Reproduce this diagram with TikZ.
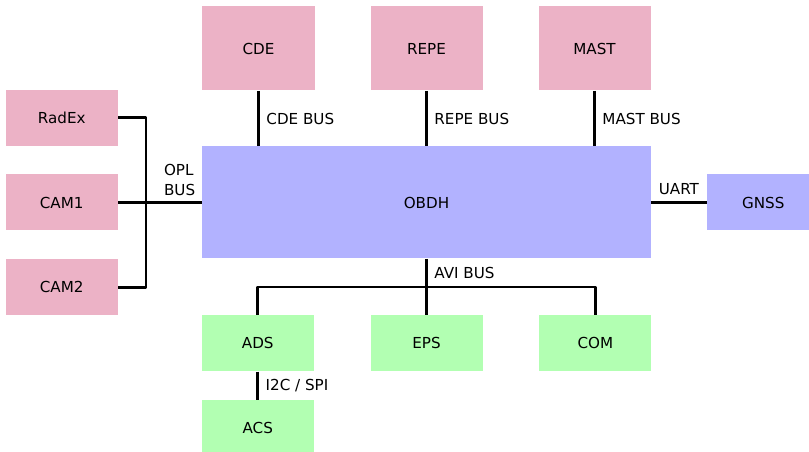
\documentclass[tikz,border=0pt]{standalone}
\usepackage{fontspec}
\setmainfont{DejaVu Sans}
\usetikzlibrary{positioning, calc}
\tikzset{
    block/.style={minimum width=2cm, minimum height=1cm, inner sep=0pt, font=\fontsize{7.7}{10}\selectfont},
    payload/.style={block, fill=purple!30},
    core/.style={block, fill=blue!30},
    subsys/.style={block, fill=green!30},
    line/.style={line width=1.4pt, line join=round},
    bus label/.style={font=\fontsize{7.7}{10}\selectfont, align=left}
}
\begin{document}
\begin{tikzpicture}
    \useasboundingbox (-7.616,-4.455) rectangle (6.83,3.616);
    % --- On-board computer ---
    \node (obdh) [core, minimum width=8cm, minimum height=2cm] at (0,0) {OBDH};
    \node (gnss) [core, right=1cm of obdh] {GNSS};

    % --- Payloads ---
    \node (cde) [payload, minimum height=1.5cm] at (-3,2.75) {CDE};
    \node (repe) [payload, minimum height=1.5cm] at (0,2.75) {REPE};
    \node (mast) [payload, minimum height=1.5cm] at (3,2.75) {MAST};
    \node (cam1) [payload, left=1.5cm of obdh] {CAM1};
    \node (radex) [payload, above=0.5cm of cam1] {RadEx};
    \node (cam2) [payload, below=0.5cm of cam1] {CAM2};

    % --- Platform ---
    \node (eps) [subsys, below=1cm of obdh] {EPS};
    \node (ads) [subsys, left=1cm of eps] {ADS};
    \node (com) [subsys, right=1cm of eps] {COM};
    \node (acs) [subsys, below=0.5cm of ads] {ACS};

    % --- OPL bus ---
    \coordinate (opl) at ($(cam1.east)+(0.5,0)$);
    \draw[line] (radex.east) -| (opl) |- (cam2.east);
    \draw[line] (cam1) -- (obdh);
    \node[bus label, above left] at (obdh.west) {OPL\\BUS};

    % --- Payload buses ---
    \draw[line] (cde) -- node[bus label, right] {CDE BUS} (cde |- obdh.north);
    \draw[line] (repe) -- node[bus label, right] {REPE BUS} (repe |- obdh.north);
    \draw[line] (mast) -- node[bus label, right] {MAST BUS} (mast |- obdh.north);
    \draw[line] (obdh) -- node[bus label, above] {UART} (gnss);

    % --- AVI bus ---
    \coordinate (avi) at ($(obdh.south)+(0,-0.5)$);
    \draw[line] (obdh.south) -- node[bus label, right] {AVI BUS} (avi);
    \draw[line] (ads.north) |- (avi) -| (com.north);
    \draw[line] (avi) -- (eps);
    \draw[line] (ads) -- node[bus label, right] {I2C / SPI} (acs);
\end{tikzpicture}
\end{document}
